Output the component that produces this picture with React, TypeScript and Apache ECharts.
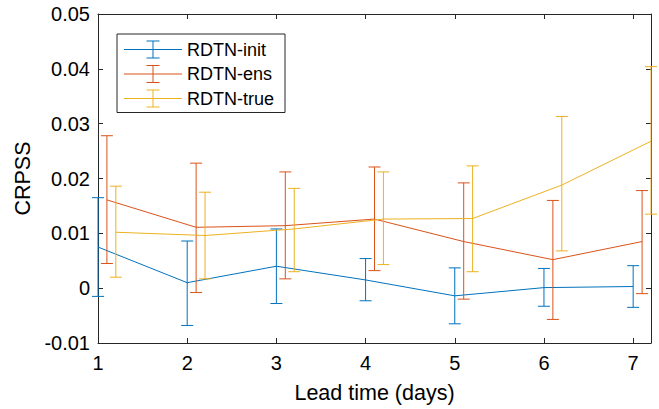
import React, { useEffect, useRef } from 'react'
import * as echarts from 'echarts'

const days = [1, 2, 3, 4, 5, 6, 7]
const seriesNames = ['RDTN-init', 'RDTN-ens', 'RDTN-true']
const colors = ['#0072BD', '#D95319', '#EDB120']
const offsets = [0, 0.1, 0.2]

const initMean = [0.0075, 0.001, 0.004, 0.0015, -0.0014, 0.0001, 0.0003]
const initLow = [-0.0015, -0.0068, -0.0028, -0.0023, -0.0065, -0.0033, -0.0035]
const initHigh = [0.0165, 0.0086, 0.0108, 0.0054, 0.0037, 0.0036, 0.0041]

const ensMean = [0.0161, 0.0111, 0.0114, 0.0126, 0.0085, 0.0052, 0.0085]
const ensLow = [0.0045, -0.0008, 0.0017, 0.0032, -0.002, -0.0057, -0.001]
const ensHigh = [0.0278, 0.0228, 0.0212, 0.0221, 0.0192, 0.016, 0.0178]

const trueMean = [0.0102, 0.0096, 0.0108, 0.0126, 0.0127, 0.0188, 0.0268]
const trueLow = [0.002, 0.0017, 0.003, 0.0043, 0.003, 0.0068, 0.0135]
const trueHigh = [0.0186, 0.0175, 0.0182, 0.0212, 0.0223, 0.0313, 0.0404]

const means = [initMean, ensMean, trueMean]
const lows = [initLow, ensLow, trueLow]
const highs = [initHigh, ensHigh, trueHigh]

const FONT = 'Liberation Sans, Arial, Helvetica, sans-serif'
const AXIS_COLOR = '#262626'

// legend glyph: horizontal line with an error bar in the middle (filled path, 58x18)
const legendIcon =
  'path://M0,8.5H58V9.5H0Z M28.5,0.5H29.5V17.5H28.5Z M22.5,0H35.5V1H22.5Z M22.5,17H35.5V18H22.5Z'

const App: React.FC = () => {
  const chartRef = useRef<HTMLDivElement>(null)

  useEffect(() => {
    if (!chartRef.current) return
    const chart = echarts.init(chartRef.current, undefined, { renderer: 'svg' })

    const series: any[] = []
    seriesNames.forEach((name, s) => {
      const color = colors[s]
      const barData = days.map((d, i) => [d + offsets[s], lows[s][i], highs[s][i]])
      series.push({
        type: 'custom',
        name,
        clip: false,
        itemStyle: { color },
        encode: { x: 0, y: [1, 2] },
        data: barData,
        z: 2 + s * 2,
        renderItem: (_params: any, api: any) => {
          const x = api.value(0)
          const top = api.coord([x, api.value(2)])
          const bot = api.coord([x, api.value(1)])
          const hw = 6
          const style = { stroke: color, lineWidth: 1 }
          return {
            type: 'group',
            children: [
              { type: 'line', shape: { x1: top[0], y1: top[1], x2: bot[0], y2: bot[1] }, style },
              { type: 'line', shape: { x1: top[0] - hw, y1: top[1], x2: top[0] + hw, y2: top[1] }, style },
              { type: 'line', shape: { x1: bot[0] - hw, y1: bot[1], x2: bot[0] + hw, y2: bot[1] }, style }
            ]
          }
        }
      })
      series.push({
        type: 'line',
        name,
        data: days.map((d, i) => [d + offsets[s], means[s][i]]),
        showSymbol: false,
        symbol: 'none',
        lineStyle: { color, width: 1 },
        itemStyle: { color },
        z: 3 + s * 2
      })
    })

    const option: echarts.EChartsOption = {
      animation: false,
      backgroundColor: '#ffffff',
      color: colors,
      grid: { left: 98, right: 8, top: 14, bottom: 63, containLabel: false },
      legend: {
        orient: 'vertical',
        left: 117,
        top: 34,
        data: seriesNames.map((n) => ({ name: n, icon: legendIcon, itemStyle: { borderWidth: 0 } })),
        itemWidth: 58,
        itemHeight: 18,
        itemGap: 6.5,
        itemSymbolKeepAspect: false,
        padding: [6.5, 11, 5, 7],
        backgroundColor: '#ffffff',
        borderColor: AXIS_COLOR,
        borderWidth: 1,
        borderRadius: 0,
        selectedMode: false,
        textStyle: { fontFamily: FONT, fontSize: 18, color: '#000000', padding: [0, 0, 0, 0] }
      } as any,
      xAxis: [
        {
          type: 'value',
          min: 1,
          max: 7.2,
          interval: 1,
          name: 'Lead time (days)',
          nameLocation: 'middle',
          nameGap: 39,
          nameTextStyle: { fontFamily: FONT, fontSize: 21.5, color: '#000000' },
          axisLine: { show: true, onZero: false, lineStyle: { color: AXIS_COLOR, width: 1 } },
          axisTick: { show: true, inside: true, length: 5, lineStyle: { color: AXIS_COLOR } },
          axisLabel: {
            fontFamily: FONT,
            fontSize: 20,
            color: '#000000',
            margin: 10,
            showMaxLabel: false,
            formatter: (v: number) => (Number.isInteger(v) ? String(v) : '')
          },
          splitLine: { show: false }
        },
        {
          type: 'value',
          position: 'top',
          min: 1,
          max: 7.2,
          interval: 1,
          axisLine: { show: true, onZero: false, lineStyle: { color: AXIS_COLOR, width: 1 } },
          axisTick: { show: true, inside: true, length: 5, lineStyle: { color: AXIS_COLOR } },
          axisLabel: { show: false },
          splitLine: { show: false }
        }
      ],
      yAxis: [
        {
          type: 'value',
          min: -0.01,
          max: 0.05,
          interval: 0.01,
          name: 'CRPSS',
          nameLocation: 'middle',
          nameGap: 62,
          nameTextStyle: { fontFamily: FONT, fontSize: 21.5, color: '#000000' },
          axisLine: { show: true, onZero: false, lineStyle: { color: AXIS_COLOR, width: 1 } },
          axisTick: { show: true, inside: true, length: 5, lineStyle: { color: AXIS_COLOR } },
          axisLabel: { fontFamily: FONT, fontSize: 20, color: '#000000', margin: 8 },
          splitLine: { show: false }
        },
        {
          type: 'value',
          position: 'right',
          min: -0.01,
          max: 0.05,
          interval: 0.01,
          axisLine: { show: true, onZero: false, lineStyle: { color: AXIS_COLOR, width: 1 } },
          axisTick: { show: true, inside: true, length: 5, lineStyle: { color: AXIS_COLOR } },
          axisLabel: { show: false },
          splitLine: { show: false }
        }
      ],
      series
    }

    chart.setOption(option)
    return () => {
      chart.dispose()
    }
  }, [])

  return (
    <div
      ref={chartRef}
      style={{ position: 'fixed', left: 0, top: 0, width: 659, height: 409, background: '#fff' }}
    />
  )
}

export default App
